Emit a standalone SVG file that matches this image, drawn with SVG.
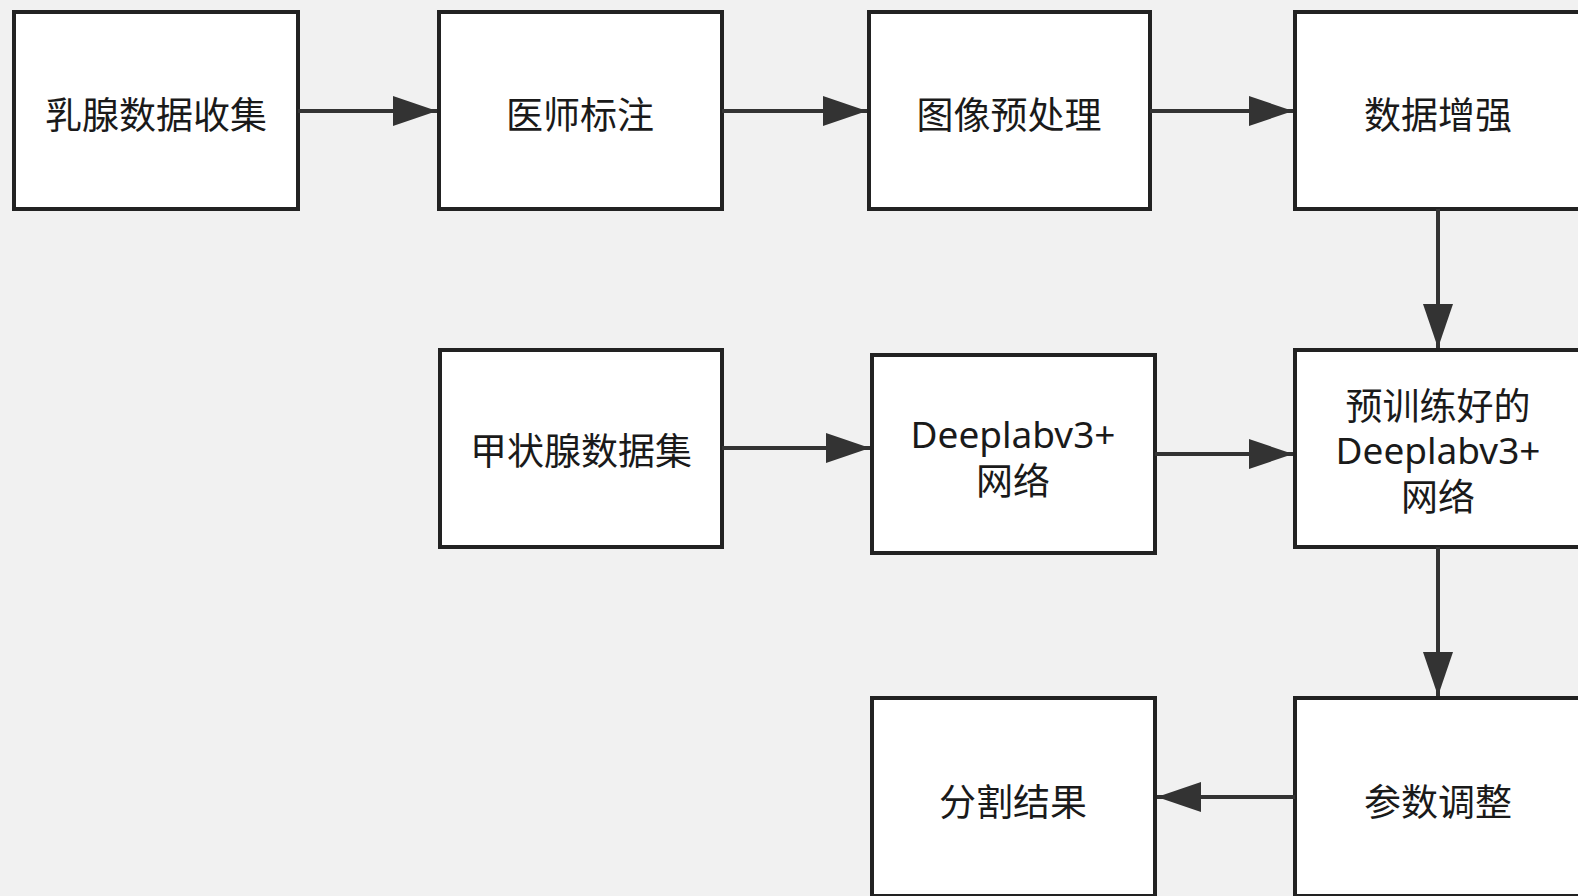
<svg xmlns="http://www.w3.org/2000/svg" width="1578" height="896" viewBox="0 0 1578 896">
<defs>
<style>
.box{fill:#ffffff;stroke:#222222;stroke-width:4}
.t{font-family:"Noto Sans","Noto Sans CJK SC",sans-serif;font-size:37px;fill:#1a1a1a;text-anchor:middle}
.c{stroke:#333333;stroke-width:4;fill:none;marker-end:url(#ah)}
</style>
<marker id="ah" markerUnits="userSpaceOnUse" markerWidth="44" markerHeight="30" refX="44" refY="15" orient="auto">
<path d="M0,0 L44,15 L0,30 Z" fill="#333333"/>
</marker>
</defs>
<rect width="1578" height="896" fill="#f1f1f1"/>
<g id="n1"><rect class="box" x="14" y="12" width="284" height="197"/><text class="t" x="156" y="129">乳腺数据收集</text></g>
<g id="n2"><rect class="box" x="439" y="12" width="283" height="197"/><text class="t" x="580" y="129">医师标注</text></g>
<g id="n3"><rect class="box" x="869" y="12" width="281" height="197"/><text class="t" x="1009" y="129">图像预处理</text></g>
<g id="n4"><rect class="box" x="1295" y="12" width="285" height="197"/><text class="t" x="1438" y="129">数据增强</text></g>
<g id="n5"><rect class="box" x="440" y="350" width="282" height="197"/><text class="t" x="581" y="465">甲状腺数据集</text></g>
<g id="n6"><rect class="box" x="872" y="355" width="283" height="198"/><text class="t" x="1013" y="448">Deeplabv3+</text><text class="t" x="1013" y="495">网络</text></g>
<g id="n7"><rect class="box" x="1295" y="350" width="285" height="197"/><text class="t" x="1438" y="420">预训练好的</text><text class="t" x="1438" y="464">Deeplabv3+</text><text class="t" x="1438" y="511">网络</text></g>
<g id="n8"><rect class="box" x="872" y="698" width="283" height="198"/><text class="t" x="1013" y="816">分割结果</text></g>
<g id="n9"><rect class="box" x="1295" y="698" width="285" height="198"/><text class="t" x="1438" y="816">参数调整</text></g>
<g id="connectors">
<line class="c" x1="298" y1="111" x2="437" y2="111"/>
<line class="c" x1="722" y1="111" x2="867" y2="111"/>
<line class="c" x1="1150" y1="111" x2="1293" y2="111"/>
<line class="c" x1="1438" y1="209" x2="1438" y2="348"/>
<line class="c" x1="722" y1="448" x2="870" y2="448"/>
<line class="c" x1="1155" y1="454" x2="1293" y2="454"/>
<line class="c" x1="1438" y1="547" x2="1438" y2="696"/>
<line class="c" x1="1295" y1="797" x2="1157" y2="797"/>
</g>
</svg>
